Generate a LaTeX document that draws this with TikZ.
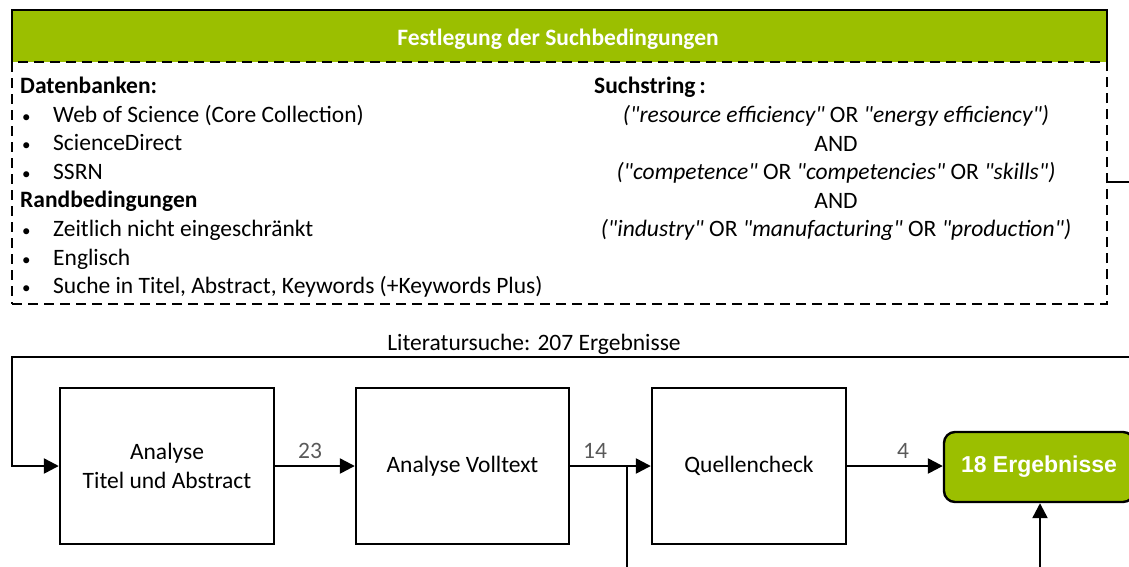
\documentclass[tikz,border=0pt]{standalone}
\usepackage{fontspec}
\setmainfont{Carlito}[Ligatures=TeXOff]
\newfontfamily\arialfont{Liberation Sans}
\usetikzlibrary{arrows.meta}
\definecolor{leaf}{RGB}{155,191,0}
\definecolor{numgray}{RGB}{89,89,89}
\newcommand{\bodysize}{\fontsize{23.5}{29}\selectfont}
\newcommand{\smallbullet}{{\fontsize{17}{17}\selectfont •}}

\begin{document}
\begin{tikzpicture}[x=1pt,y=-1pt,
  txt/.style={inner sep=0pt, anchor=base west, font=\bodysize},
  ctxt/.style={inner sep=0pt, anchor=base, font=\bodysize},
  num/.style={ctxt, text=numgray},
  stepbox/.style={draw, line width=2.4pt, minimum height=156pt, inner sep=0pt,
    align=center, font=\bodysize},
  line/.style={line width=2.4pt},
  flow/.style={line width=2.4pt, -{Triangle[length=15pt,width=15pt]}}]
\useasboundingbox (0,0) rectangle (1129,566);
\clip (0,0) rectangle (1129,566);

% header bar and dashed frame of the search conditions
\node[fill=leaf, minimum width=1095pt, minimum height=52pt, inner sep=0pt] (head) at (559.5,36) {};
\node[draw, dashed, dash pattern=on 10pt off 6pt, line width=2.4pt,
  minimum width=1095pt, minimum height=242pt, inner sep=0pt] (cond) at (559.5,183) {};
\draw[line, line join=miter] (head.south west) -- (head.north west) -- (head.north east) -- (head.south east);
\node[ctxt, text=white, font=\bfseries\bodysize] (headtxt) at (558,45) {Festlegung der Suchbedingungen};

% databases and boundary conditions
\node[txt, font=\bfseries\bodysize] (db) at (20,93.5) {Datenbanken:};
\node[txt] (b1) at (22,122) {\smallbullet};
\node[txt] (d1) at (53,122) {Web of Science (Core Collection)};
\node[txt] (b2) at (22,150.6) {\smallbullet};
\node[txt] (d2) at (53,150.6) {ScienceDirect};
\node[txt] (b3) at (22,179.2) {\smallbullet};
\node[txt] (d3) at (53,179.2) {SSRN};
\node[txt, font=\bfseries\bodysize] (rb) at (20,207.8) {Randbedingungen};
\node[txt] (b4) at (22,236.4) {\smallbullet};
\node[txt] (r1) at (53,236.4) {Zeitlich nicht eingeschränkt};
\node[txt] (b5) at (22,265) {\smallbullet};
\node[txt] (r2) at (53,265) {Englisch};
\node[txt] (b6) at (22,293.6) {\smallbullet};
\node[txt] (r3) at (53,293.6) {Suche in Titel, Abstract, Keywords (+Keywords Plus)};

% search string
\node[txt, font=\bfseries\bodysize] (ss) at (594,93.5) {Suchstring\,:};
\node[ctxt] (s1) at (836,122.5) {\textit{("resource efficiency"} OR \textit{"energy efficiency")}};
\node[ctxt] (s2) at (836,151) {AND};
\node[ctxt] (s3) at (836,179.5) {\textit{("competence"} OR \textit{"competencies"} OR \textit{"skills")}};
\node[ctxt] (s4) at (836,208) {AND};
\node[ctxt] (s5) at (836,236.5) {\textit{("industry"} OR \textit{"manufacturing"} OR \textit{"production")}};

% connector leaving the frame to the right
\coordinate (side) at (1140,182);
\draw[line] (side -| cond.east) -- (side);

% process steps
\node[stepbox, minimum width=214pt] (box1) at (167,466) {Analyse\\Titel und Abstract};
\node[stepbox, minimum width=213pt] (box2) at (462.5,466) {Analyse Volltext};
\node[stepbox, minimum width=194pt] (box3) at (749,466) {Quellencheck};
\node[draw, line width=2.4pt, rounded corners=11pt, fill=leaf, minimum width=190pt,
  minimum height=70pt, inner sep=0pt, text=white,
  font=\arialfont\bfseries\fontsize{23}{28}\selectfont] (res) at (1039,467) {18 Ergebnisse};

% search result loop into the first step
\node[ctxt] (lit) at (534,350) {Literatursuche: 207 Ergebnisse};
\coordinate (loopin) at (1140,357);
\coordinate (loopcorner) at (12,357);
\draw[flow] (loopin) -- (loopcorner) |- (box1.west);

% flow between steps
\draw[flow] (box1.east) -- (box2.west);
\draw[flow] (box2.east) -- (box3.west);
\draw[flow] (box3.east) -- (box3.east -| res.west);
\node[num] (n23) at (310,458) {23};
\node[num] (n14) at (595,458) {14};
\node[num] (n4) at (903,458) {4};

% branches to and from the lower part
\coordinate (jtop) at (627,466);
\coordinate (jbot) at (627,580);
\draw[line] (jtop) -- (jbot);
\coordinate (rbot) at (1040,580);
\draw[flow] (rbot) -- (rbot |- res.south);
\end{tikzpicture}
\end{document}
